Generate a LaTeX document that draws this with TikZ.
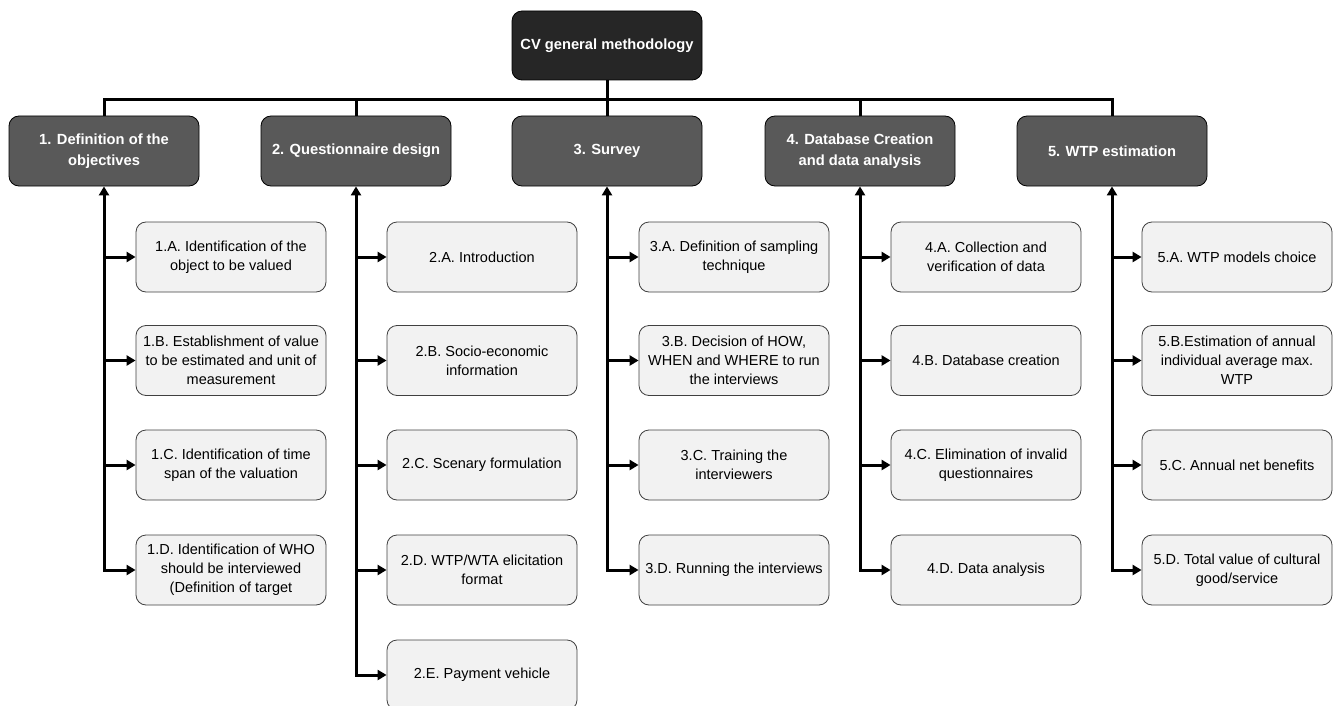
\documentclass[tikz,border=0pt]{standalone}
\usepackage{fontspec}
\setmainfont{Liberation Sans}
\usetikzlibrary{arrows.meta}
\definecolor{topfill}{HTML}{262626}
\definecolor{hdrfill}{HTML}{595959}
\definecolor{chfill}{HTML}{F2F2F2}
\definecolor{chdraw}{HTML}{404040}
\begin{document}
\begin{tikzpicture}[x=1pt,y=-1pt,
  topbox/.style={draw=black,line width=0.8pt,fill=topfill,rounded corners=10pt,minimum width=190pt,minimum height=69pt,inner sep=0pt,align=center,text=white,font=\fontsize{14.7}{21}\selectfont\bfseries},
  hdrbox/.style={draw=black,line width=0.8pt,fill=hdrfill,rounded corners=10pt,minimum width=190pt,minimum height=70pt,inner sep=0pt,align=center,text=white,font=\fontsize{14.7}{21}\selectfont\bfseries},
  chbox/.style={draw=chdraw,line width=0.8pt,fill=chfill,rounded corners=10pt,minimum width=190pt,minimum height=70pt,inner sep=0pt,align=center,text=black,font=\fontsize{14.5}{19}\selectfont},
  conn/.style={line width=3pt,black},
  arr/.style={conn,-{Triangle[length=9pt,width=10pt]}},
  darr/.style={conn,{Triangle[length=9pt,width=10pt]}-{Triangle[length=9pt,width=10pt]}}
]
\useasboundingbox (0,0) rectangle (1338,706);
\node[topbox] (top) at (607,45.5) {CV general methodology};
\node[hdrbox] (h1) at (104,151) {1. Definition of the\\objectives};
\node[hdrbox] (h2) at (356,151) {2. Questionnaire design};
\node[hdrbox] (h3) at (607,151) {3. Survey};
\node[hdrbox] (h4) at (860,151) {4. Database Creation\\and data analysis};
\node[hdrbox] (h5) at (1112,151) {5. WTP estimation};
\coordinate (bar) at (607,100);
% column 1
\node[chbox] (c1a) at (231,257) {1.A. Identification of the\\object to be valued};
\node[chbox] (c1b) at (231,360.5) {1.B. Establishment of value\\to be estimated and unit of\\measurement};
\node[chbox] (c1c) at (231,465) {1.C. Identification of time\\span of the valuation};
\node[chbox] (c1d) at (231,570) {1.D. Identification of WHO\\should be interviewed\\(Definition of target};
% column 2
\node[chbox] (c2a) at (482,257) {2.A. Introduction};
\node[chbox] (c2b) at (482,360.5) {2.B. Socio-economic\\information};
\node[chbox] (c2c) at (482,465) {2.C. Scenary formulation};
\node[chbox] (c2d) at (482,570) {2.D. WTP/WTA elicitation\\format};
\node[chbox] (c2e) at (482,675) {2.E. Payment vehicle};
% column 3
\node[chbox] (c3a) at (734,257) {3.A. Definition of sampling\\technique};
\node[chbox] (c3b) at (734,360.5) {3.B. Decision of HOW,\\WHEN and WHERE to run\\the interviews};
\node[chbox] (c3c) at (734,465) {3.C. Training the\\interviewers};
\node[chbox] (c3d) at (734,570) {3.D. Running the interviews};
% column 4
\node[chbox] (c4a) at (986,257) {4.A. Collection and\\verification of data};
\node[chbox] (c4b) at (986,360.5) {4.B. Database creation};
\node[chbox] (c4c) at (986,465) {4.C. Elimination of invalid\\questionnaires};
\node[chbox] (c4d) at (986,570) {4.D. Data analysis};
% column 5
\node[chbox] (c5a) at (1237,257) {5.A. WTP models choice};
\node[chbox] (c5b) at (1237,360.5) {5.B.Estimation of annual\\individual average max.\\WTP};
\node[chbox] (c5c) at (1237,465) {5.C. Annual net benefits};
\node[chbox] (c5d) at (1237,570) {5.D. Total value of cultural\\good/service};
% top connectors
\draw[conn] (top.south) -- (h3.north);
\draw[conn] (h1.north) |- (bar) -| (h5.north);
\draw[conn] (h2.north) -- (h2.north |- bar);
\draw[conn] (h4.north) -- (h4.north |- bar);
% column connectors
\draw[darr] (h1.south) |- (c1d.west);
\foreach \c in {c1a,c1b,c1c} \draw[arr] (h1.south |- \c.west) -- (\c.west);
\draw[darr] (h2.south) |- (c2e.west);
\foreach \c in {c2a,c2b,c2c,c2d} \draw[arr] (h2.south |- \c.west) -- (\c.west);
\draw[darr] (h3.south) |- (c3d.west);
\foreach \c in {c3a,c3b,c3c} \draw[arr] (h3.south |- \c.west) -- (\c.west);
\draw[darr] (h4.south) |- (c4d.west);
\foreach \c in {c4a,c4b,c4c} \draw[arr] (h4.south |- \c.west) -- (\c.west);
\draw[darr] (h5.south) |- (c5d.west);
\foreach \c in {c5a,c5b,c5c} \draw[arr] (h5.south |- \c.west) -- (\c.west);
\end{tikzpicture}
\end{document}
